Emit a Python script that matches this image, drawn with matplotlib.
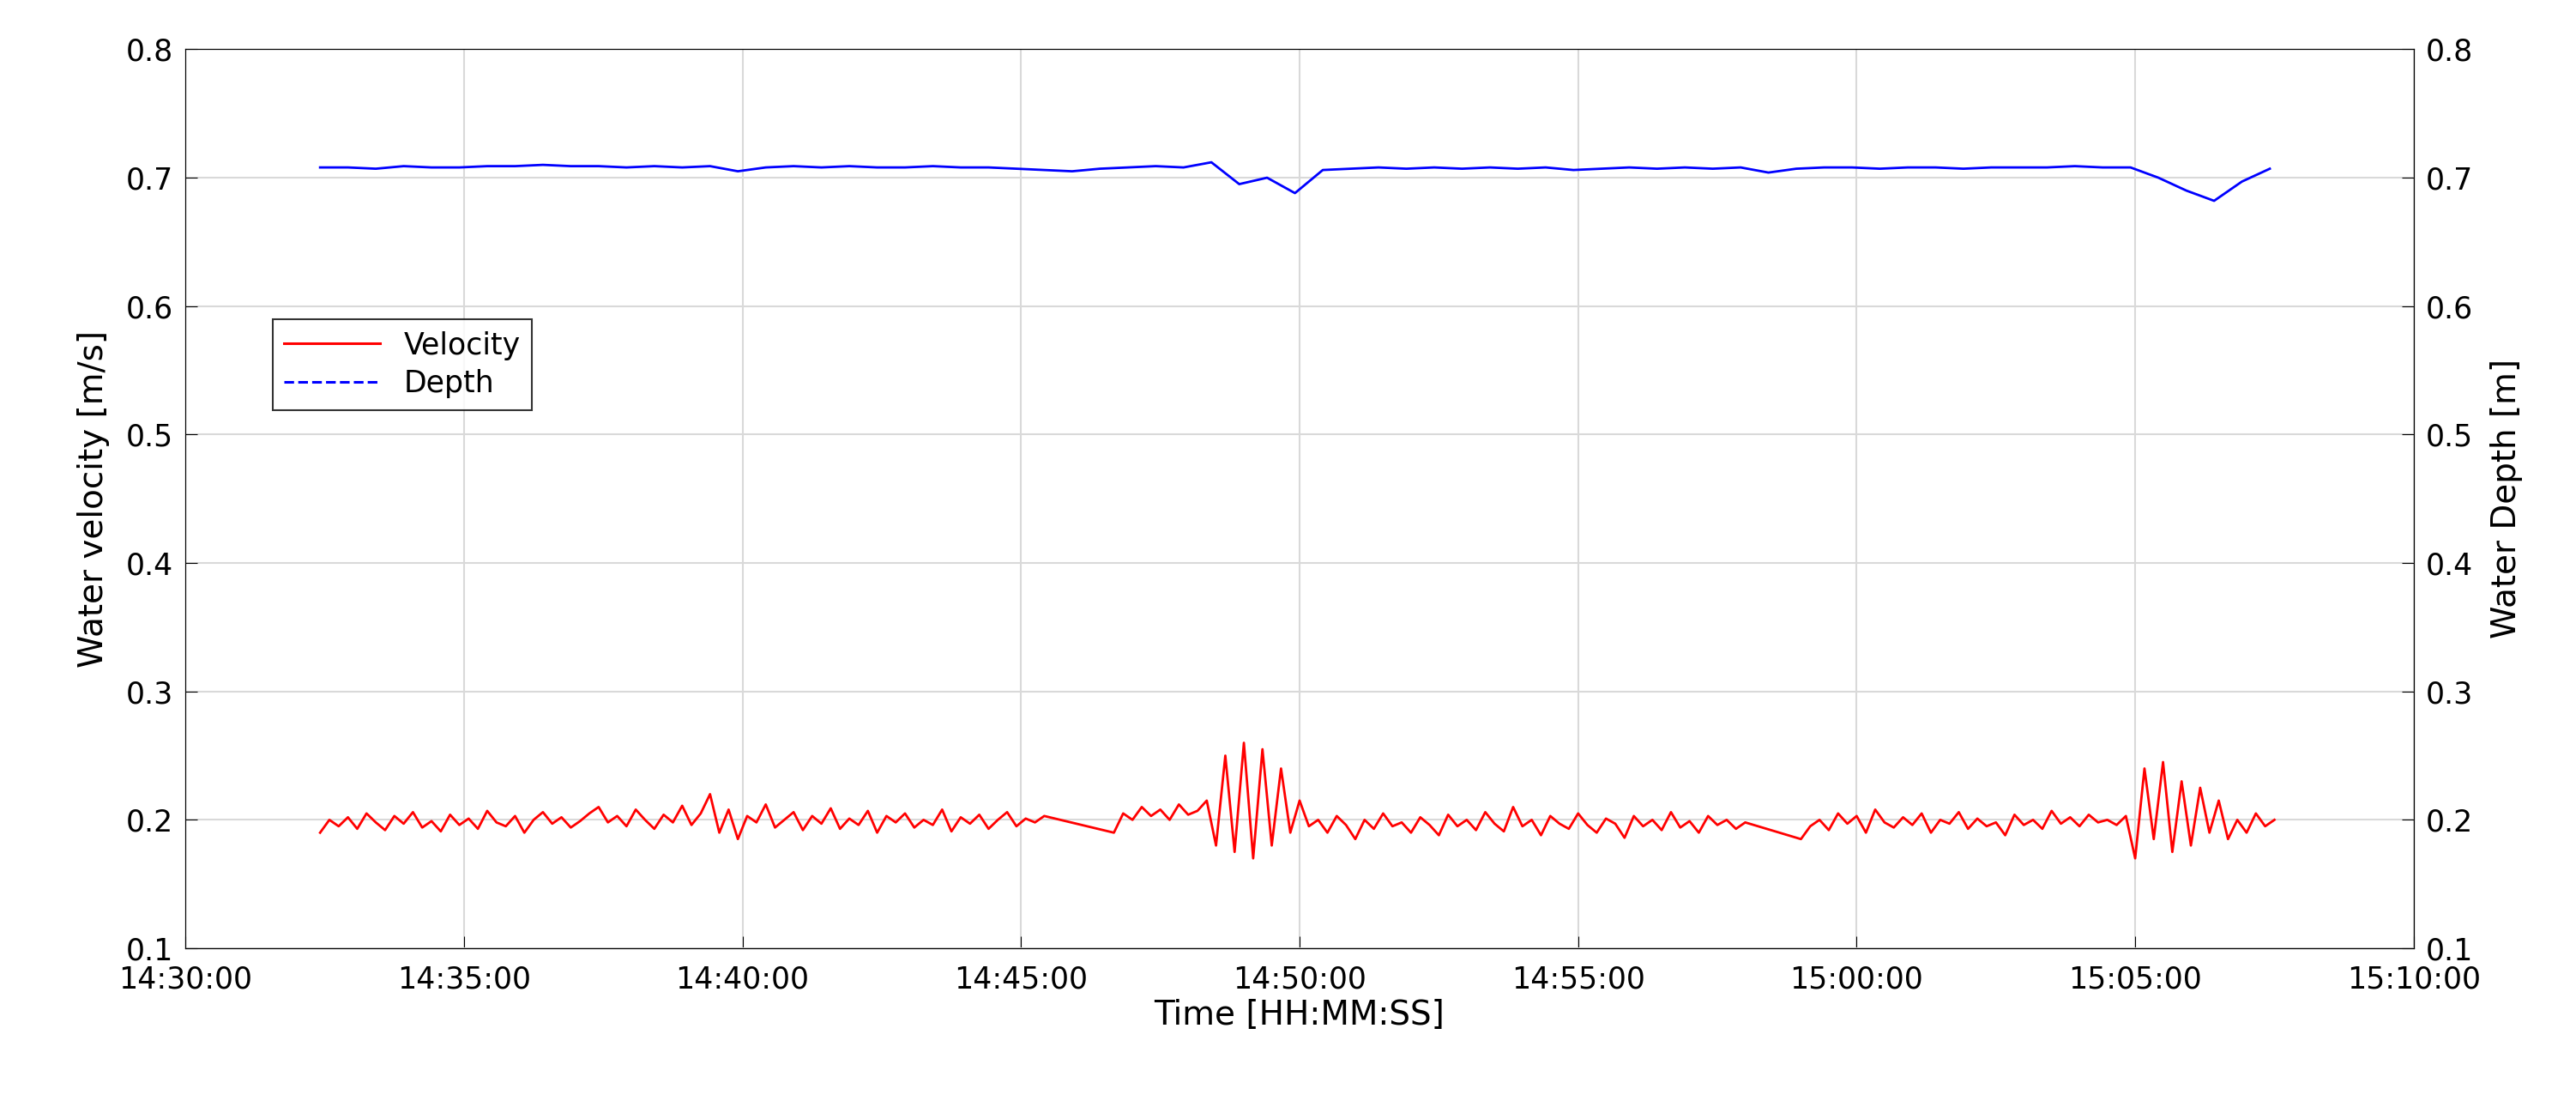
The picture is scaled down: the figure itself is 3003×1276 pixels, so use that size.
import numpy as np
import matplotlib
matplotlib.use("Agg")
import matplotlib.pyplot as plt
from matplotlib.ticker import FuncFormatter, MultipleLocator
from matplotlib.lines import Line2D

# seconds after 14:30:00
vel_seg1 = [0.190,0.200,0.195,0.202,0.193,0.205,0.198,0.192,0.203,0.197,
0.206,0.194,0.199,0.191,0.204,0.196,0.201,0.193,0.207,0.198,
0.195,0.203,0.190,0.200,0.206,0.197,0.202,0.194,0.199,0.205,
0.210,0.198,0.203,0.195,0.208,0.200,0.193,0.204,0.198,0.211,
0.196,0.205,0.220,0.190,0.208,0.185,0.203,0.198,0.212,0.194,
0.200,0.206,0.192,0.203,0.197,0.209,0.193,0.201,0.196,0.207,
0.190,0.203,0.198,0.205,0.194,0.200,0.196,0.208,0.191,0.202,
0.197,0.204,0.193,0.200,0.206,0.195,0.201,0.198,0.203]
vel_seg2 = [0.190,0.205,0.200,0.210,0.203,0.208,0.200,0.212,0.204,0.207,0.215,
0.180,0.250,0.175,0.260,0.170,0.255,0.180,0.240,0.190,0.215,
0.195,0.200,0.190,0.203,0.196,0.185,0.200,0.193,0.205,0.195,
0.198,0.190,0.202,0.196,0.188,0.204,0.195,0.200,0.192,0.206,
0.197,0.191,0.210,0.195,0.200,0.188,0.203,0.197,0.193,0.205,
0.196,0.190,0.201,0.197,0.186,0.203,0.195,0.200,0.192,0.206,
0.194,0.199,0.190,0.203,0.196,0.200,0.193,0.198]
vel_seg3 = [0.185,0.195,0.200,0.192,0.205,0.197,0.203,0.190,0.208,0.198,
0.194,0.202,0.196,0.205,0.190,0.200,0.197,0.206,0.193,0.201,
0.195,0.198,0.188,0.204,0.196,0.200,0.193,0.207,0.197,0.202,
0.195,0.204,0.198,0.200,0.196,0.203,
0.170,0.240,0.185,0.245,0.175,0.230,0.180,0.225,0.190,0.215,
0.185,0.200,0.190,0.205,0.195,0.200]
seg_starts = [145, 1000, 1740]
step_vel = 10

depth = [0.708,0.708,0.707,0.709,0.708,0.708,0.709,0.709,0.710,0.709,
0.709,0.708,0.709,0.708,0.709,0.705,0.708,0.709,0.708,0.709,
0.708,0.708,0.709,0.708,0.708,0.707,0.706,0.705,0.707,0.708,
0.709,0.708,0.712,0.695,0.700,0.688,
0.706,0.707,0.708,0.707,0.708,0.707,0.708,0.707,0.708,0.706,0.707,0.708,0.707,0.708,
0.707,0.708,0.704,0.707,0.708,0.708,0.707,0.708,0.708,0.707,
0.708,0.708,0.708,0.709,0.708,0.708,0.700,0.690,0.682,0.697,0.707]
depth_start, depth_step = 145, 30

t_vel = np.concatenate([s + step_vel*np.arange(len(v)) for s, v in zip(seg_starts, [vel_seg1, vel_seg2, vel_seg3])])
v_vel = np.concatenate([vel_seg1, vel_seg2, vel_seg3])
t_dep = depth_start + depth_step*np.arange(len(depth))

fig = plt.figure(figsize=(30.03, 12.76), dpi=100)
ax = fig.add_axes([0.072, 0.134, 0.865, 0.821])
ax2 = ax.twinx()
ax.plot(t_vel, v_vel, color='red', lw=2)
ax2.plot(t_dep, depth, color='blue', lw=2)
for a in (ax, ax2):
    a.set_ylim(0.1, 0.8)
    a.yaxis.set_major_locator(MultipleLocator(0.1))
    a.tick_params(labelsize=25, direction='in', length=10, pad=10)
ax.set_xlim(0, 2400)
ax.xaxis.set_major_locator(MultipleLocator(300))
def fmt(x, pos):
    s = int(round(x)) + 14*3600 + 30*60
    return f"{s//3600:02d}:{(s%3600)//60:02d}:{s%60:02d}"
ax.xaxis.set_major_formatter(FuncFormatter(fmt))
ax.tick_params(axis='x', pad=14)
ax.grid(True, color='#d9d9d9', lw=1.5)
ax.set_xlabel('Time [HH:MM:SS]', fontsize=28, labelpad=4)
ax.set_ylabel('Water velocity [m/s]', fontsize=28, labelpad=14)
ax2.set_ylabel('Water Depth [m]', fontsize=28, labelpad=14)
handles = [Line2D([], [], color='red', lw=2.2), Line2D([], [], color='blue', lw=2.2, ls='--')]
leg = ax.legend(handles, ['Velocity', 'Depth'], loc='upper left', bbox_to_anchor=(0.039, 0.70),
                fontsize=25, fancybox=False, edgecolor='black', handlelength=3.2, borderaxespad=0,
                labelspacing=0.3)
leg.get_frame().set_linewidth(1.5)
fig.savefig('out.png', dpi=100)
